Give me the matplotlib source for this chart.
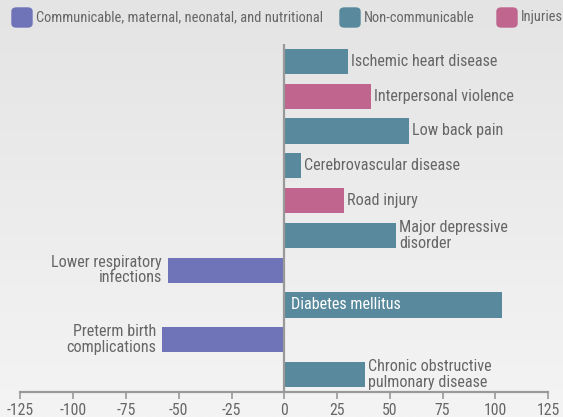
import matplotlib
matplotlib.use("Agg")
import matplotlib.pyplot as plt
from matplotlib.patches import FancyBboxPatch
import numpy as np

plt.rcParams['font.family'] = ['Roboto Condensed', 'DejaVu Sans']
plt.rcParams['axes.unicode_minus'] = False

causes = ["Ischemic heart disease", "Interpersonal violence", "Low back pain",
          "Cerebrovascular disease", "Road injury", "Major depressive\ndisorder",
          "Lower respiratory\ninfections", "Diabetes mellitus",
          "Preterm birth\ncomplications", "Chronic obstructive\npulmonary disease"]
values = [30.3, 41.2, 59.2, 8.0, 28.4, 53.0, -55.2, 103.2, -57.9, 38.3]
groups = ["ncd", "inj", "ncd", "ncd", "inj", "ncd", "cmn", "ncd", "cmn", "ncd"]

group_names = ["Communicable, maternal, neonatal, and nutritional",
               "Non-communicable", "Injuries"]
group_keys = ["cmn", "ncd", "inj"]
colors = {"cmn": "#6f73b8", "ncd": "#58899c", "inj": "#c0658e"}
txt = "#666666"

fig = plt.figure(figsize=(5.63, 4.17), dpi=100)

# soft grey gradient background
bg = fig.add_axes([0, 0, 1, 1], zorder=-5)
grad = np.linspace(0, 1, 256).reshape(-1, 1)
bg.imshow(grad, aspect="auto", cmap=matplotlib.colors.LinearSegmentedColormap.from_list(
    "g", ["#e4e4e4", "#f4f4f4"]), extent=[0, 1, 0, 1], origin="upper")
bg.axis("off")

ax = fig.add_axes([0.0364, 0.06, 0.937, 0.8345])
ax.patch.set_alpha(0)
y = np.arange(len(causes))
ax.barh(y, values, height=0.72, color=[colors[g] for g in groups], zorder=2)
ax.set_ylim(9.5, -0.5)
ax.set_xlim(-125, 125)
ax.axvline(0, color="#999999", lw=1.6, zorder=3)

fs = 11.6
for yi, v, lab in zip(y, values, causes):
    if v > 90:
        ax.annotate(lab, (0, yi), xytext=(5, 0), textcoords="offset points",
                    ha="left", va="center", color="white", fontsize=fs)
    elif v >= 0:
        ax.annotate(lab, (v, yi), xytext=(2, 0), textcoords="offset points",
                    ha="left", va="center", color=txt, fontsize=fs,
                    linespacing=1.05)
    else:
        ax.annotate(lab, (v, yi), xytext=(-4, 0), textcoords="offset points",
                    ha="right", va="center", color=txt, fontsize=fs,
                    linespacing=1.05, multialignment="right")

ax.set_xticks(np.arange(-125, 126, 25))
ax.set_yticks([])
for s in ["top", "right", "left"]:
    ax.spines[s].set_visible(False)
ax.spines["bottom"].set_color("#999999")
ax.spines["bottom"].set_linewidth(1.6)
ax.tick_params(axis="x", colors="#999999", length=5, width=1.2, labelsize=11.3,
               labelcolor=txt, pad=3)

# legend across the top
leg_x = [12, 340, 497]
for gx, key, name in zip(leg_x, group_keys, group_names):
    fig.patches.append(FancyBboxPatch((gx / 563, 1 - 27 / 417), 20 / 563, 19 / 417,
                                      boxstyle="round,pad=0,rounding_size=0.008",
                                      transform=fig.transFigure, color=colors[key]))
    fig.text((gx + 24) / 563, 1 - 17.5 / 417, name, color=txt, fontsize=10.45,
             ha="left", va="center")

fig.savefig("out.png", dpi=100)
